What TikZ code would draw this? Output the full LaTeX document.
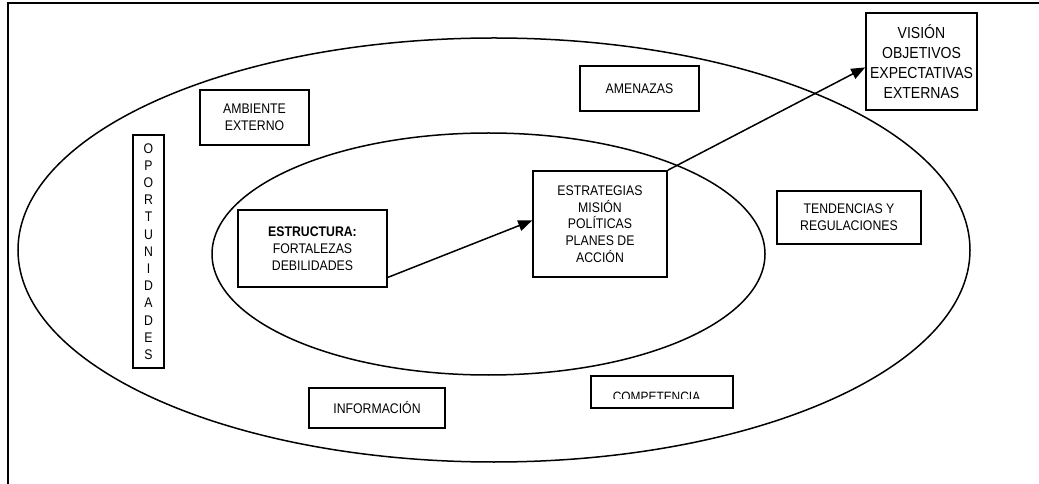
\documentclass[tikz,border=0pt]{standalone}
\usepackage{fontspec}
\setmainfont{Liberation Sans}[FakeStretch=0.88]
\usetikzlibrary{arrows.meta,calc}
\begin{document}
\begin{tikzpicture}[x=1bp,y=-1bp,
  box/.style={draw,line width=1.6bp,rectangle,inner sep=0pt,align=center,
    font=\fontsize{14}{16.8}\selectfont},
  curve/.style={line width=1.5bp},
  arr/.style={line width=1.5bp,-{Triangle[length=14bp,width=11bp]}}]
\useasboundingbox (0,0) rectangle (1039,484);
% frame
\draw[line width=1.6bp] (8,484) -- (8,3) -- (1039,3);
% ellipses
\draw[curve] (494,250) ellipse [x radius=476, y radius=212];
\draw[curve] (488.5,254) ellipse [x radius=276.5, y radius=121];
% boxes
\node[box,minimum width=109bp,minimum height=55bp] (amb) at (254.5,117.5) {AMBIENTE\\EXTERNO};
\node[box,minimum width=31bp,minimum height=233bp,font=\fontsize{14}{17.25}\selectfont] (opo) at (148.5,251.5)
  {O\\P\\O\\R\\T\\U\\N\\I\\D\\A\\D\\E\\S};
\node[box,minimum width=149bp,minimum height=77bp] (est) at (312.5,248.5) {\textbf{ESTRUCTURA:}\\FORTALEZAS\\DEBILIDADES};
\node[box,minimum width=134bp,minimum height=106bp] (strat) at (600,224) {ESTRATEGIAS\\MISIÓN\\POLÍTICAS\\PLANES DE\\ACCIÓN};
\node[box,minimum width=119bp,minimum height=45bp] (amen) at (639.5,88.5) {AMENAZAS};
\node[box,minimum width=111bp,minimum height=97bp,font=\fontsize{16}{20}\selectfont] (vis) at (921.5,61.5) {VISIÓN\\OBJETIVOS\\EXPECTATIVAS\\EXTERNAS};
\node[box,minimum width=144bp,minimum height=53bp] (tend) at (849,217.5) {TENDENCIAS Y\\REGULACIONES};
\node[box,minimum width=136bp,minimum height=40bp] (info) at (377,408) {INFORMACIÓN};
\node[box,minimum width=142bp,minimum height=32bp] (comp) at (662,392) {};
\begin{scope}
  \clip (comp.north west) rectangle ($(comp.east)+(0,6)$);
  \node[anchor=base,inner sep=0pt,font=\fontsize{13.6}{16}\selectfont] (compt) at ($(comp.south)+(-5.5,-7)$) {COMPETENCIA};
\end{scope}
% arrows
\draw[arr] (est.-21) -- (strat.177);
\draw[arr] (strat.north east) -- (vis.186);
\end{tikzpicture}
\end{document}
